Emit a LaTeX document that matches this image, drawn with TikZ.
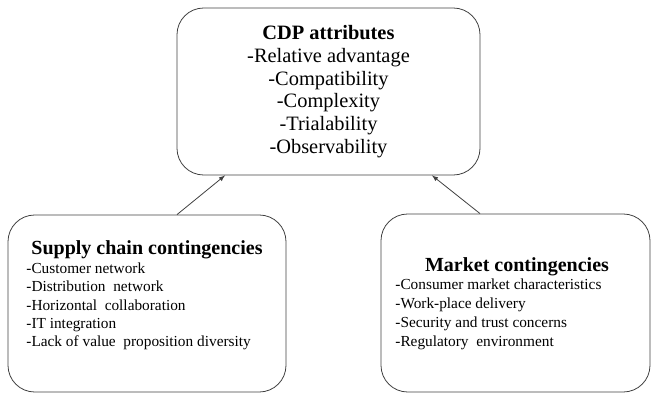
\documentclass[tikz,border=0pt]{standalone}
\usepackage{fontspec}
\setmainfont{Liberation Serif}
\usetikzlibrary{arrows, positioning}

\begin{document}
\begin{tikzpicture}[x=0.75pt, y=-0.75pt, >=latex, line width=0.6pt,
    box/.style   = {draw=black!75, rounded corners=20pt, inner sep=0pt},
    head/.style  = {inner sep=0pt, font=\fontsize{15}{18}\selectfont\bfseries},
    items/.style = {inner sep=0pt, align=left, font=\fontsize{11.5}{13.8}\selectfont}]
  \useasboundingbox (0,0) rectangle (651,395);

  % Boxes
  \node[box, minimum width=227.25pt, minimum height=125.25pt, align=center,
        font=\fontsize{15.3}{17}\selectfont] (cdp) at (328.5,91.5)
        {\textbf{CDP attributes}\\-Relative advantage\\-Compatibility\\-Complexity\\-Trialability\\-Observability};
  \node[box, minimum width=208.5pt, minimum height=132.75pt] (supply) at (147,303.5) {};
  \node[box, minimum width=201.75pt, minimum height=133.5pt] (market) at (515.5,303) {};

  % Texts of the lower boxes (base = last line)
  \node[head, anchor=base]       (supplyhead)  at (147,255) {Supply chain contingencies};
  \node[items, anchor=base west] (supplyitems) at (26,347)
        {-Customer network\\-Distribution\ \ network\\-Horizontal\ \ collaboration\\-IT integration\\-Lack of value\ \ proposition diversity};
  \node[head, anchor=base]       (markethead)  at (517,272) {Market contingencies};
  \node[items, anchor=base west, font=\fontsize{11.5}{14.3}\selectfont] (marketitems) at (395,347)
        {-Consumer market characteristics\\-Work-place delivery\\-Security and trust concerns\\-Regulatory\ \ environment};

  % Arrows
  \path[->, black!75] ([xshift=22.5pt]supply.north) edge ([xshift=-77.6pt]cdp.south)
            ([xshift=-26.6pt]market.north) edge ([xshift=77.6pt]cdp.south);
\end{tikzpicture}
\end{document}
